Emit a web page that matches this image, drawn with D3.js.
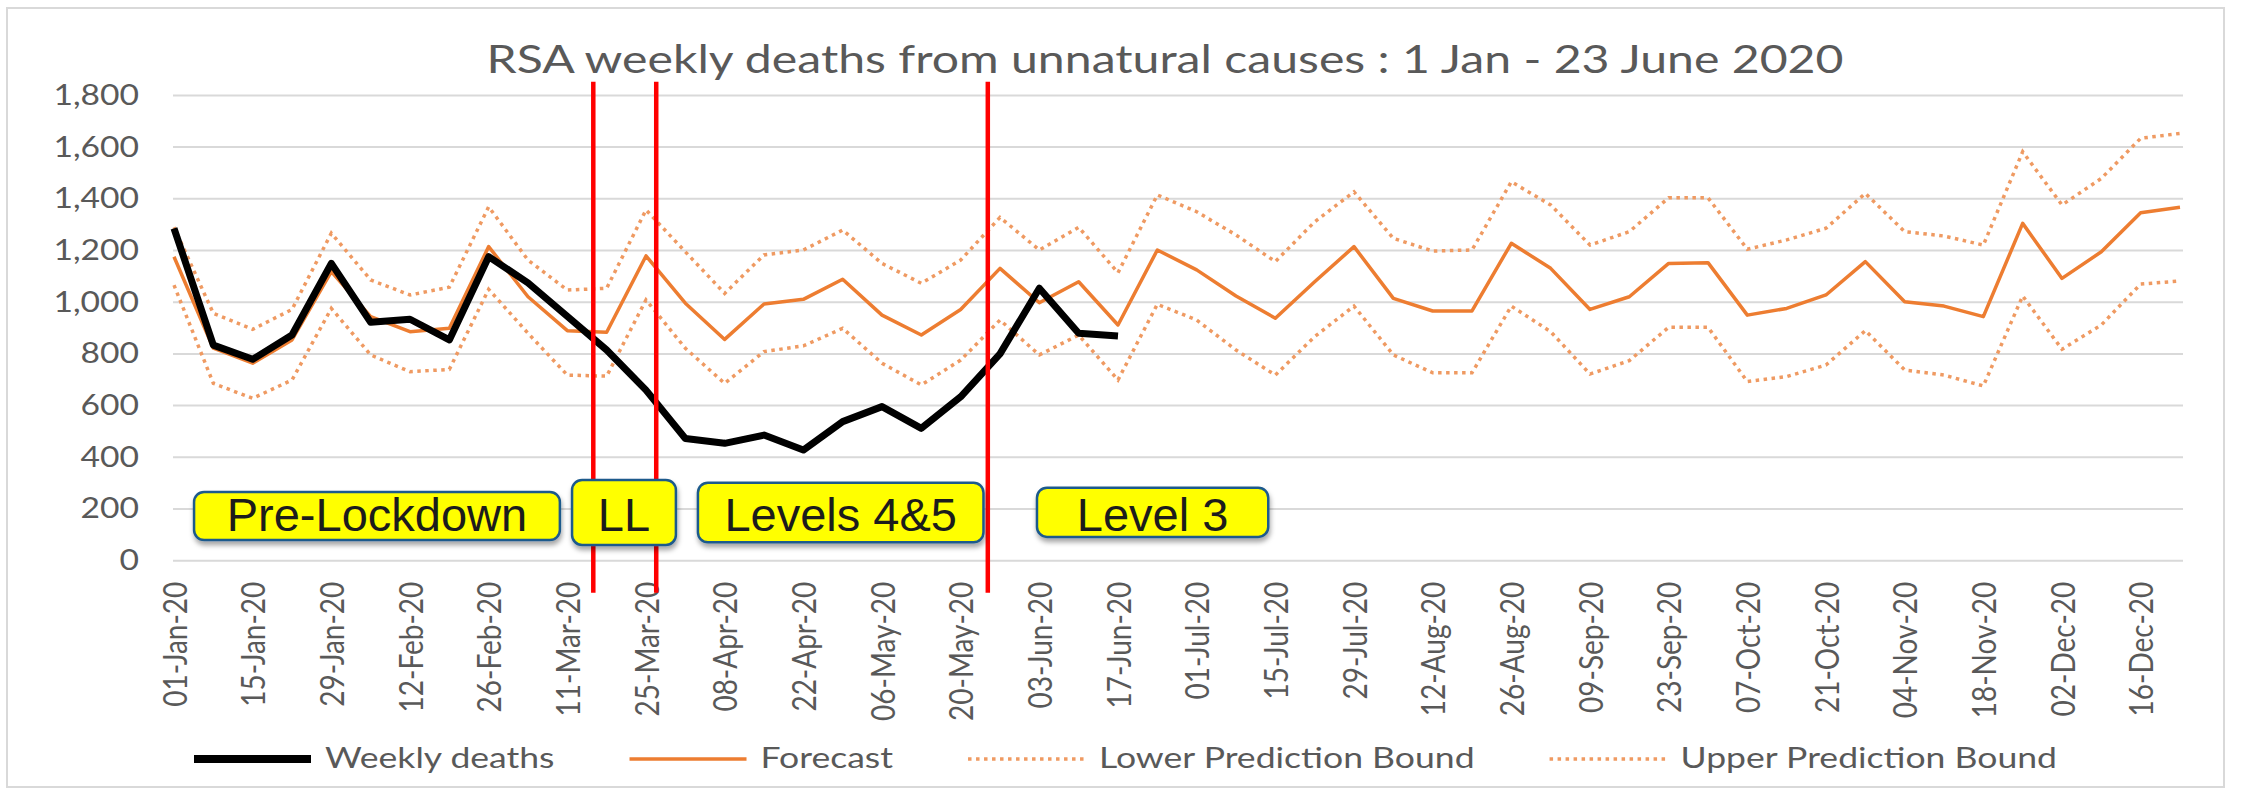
<!DOCTYPE html>
<html>
<head>
<meta charset="utf-8">
<title>RSA weekly deaths from unnatural causes</title>
<script src="https://cdn.jsdelivr.net/npm/d3@7"></script>
<style>
  html, body {margin:0; padding:0; background:#fff;}
  svg text {font-family:Lato, 'Open Sans', sans-serif; fill:#595959;}
  .phase text {font-family:'Liberation Sans', Arial, sans-serif; fill:#1c1c1c;}
</style>
</head>
<body>
<svg id="chart" width="2241" height="790"></svg>
<script>
// weekly categories, 01-Jan-20 .. 23-Dec-20
const weeks = ['01-Jan-20','08-Jan-20','15-Jan-20','22-Jan-20','29-Jan-20','05-Feb-20','12-Feb-20',
  '19-Feb-20','26-Feb-20','04-Mar-20','11-Mar-20','18-Mar-20','25-Mar-20','01-Apr-20','08-Apr-20',
  '15-Apr-20','22-Apr-20','29-Apr-20','06-May-20','13-May-20','20-May-20','27-May-20','03-Jun-20',
  '10-Jun-20','17-Jun-20','24-Jun-20','01-Jul-20','08-Jul-20','15-Jul-20','22-Jul-20','29-Jul-20',
  '05-Aug-20','12-Aug-20','19-Aug-20','26-Aug-20','02-Sep-20','09-Sep-20','16-Sep-20','23-Sep-20',
  '30-Sep-20','07-Oct-20','14-Oct-20','21-Oct-20','28-Oct-20','04-Nov-20','11-Nov-20','18-Nov-20',
  '25-Nov-20','02-Dec-20','09-Dec-20','16-Dec-20','23-Dec-20'];

// observed, up to 17-Jun
const deaths = [1286,834,779,873,1150,922,934,854,1176,1075,945,815,660,473,454,486,428,538,596,512,
  634,800,1054,880,869];

const forecast = [1176,822,764,854,1118,944,886,899,1215,1021,890,884,1179,996,856,993,1011,1089,950,873,
  972,1131,998,1079,912,1202,1125,1024,938,1079,1215,1015,966,966,1228,1131,972,1021,1150,1153,
  950,976,1028,1157,1002,985,944,1305,1092,1195,1346,1367];

const lower = [1066,686,628,699,976,796,731,740,1050,880,718,714,1009,822,686,809,831,899,764,680,
  776,931,796,873,699,992,931,815,718,867,985,796,727,727,985,886,722,774,903,903,
  693,712,757,890,738,718,676,1024,818,912,1070,1082];

const upper = [1290,957,895,972,1267,1086,1028,1058,1369,1163,1047,1054,1357,1195,1034,1183,1202,1279,1150,1073,
  1163,1328,1202,1290,1114,1415,1350,1260,1157,1311,1427,1247,1198,1202,1466,1376,1221,1273,1404,1404,
  1205,1241,1286,1421,1273,1256,1221,1582,1376,1479,1634,1653];

const yTicks = [0,200,400,600,800,1000,1200,1400,1600,1800];

// red separators, in weeks after 01-Jan
const markers = [10.66, 12.26, 20.69];

// phase labels
const phases = ['Pre-Lockdown','LL','Levels 4&5','Level 3'];
const phaseFrom = [0.51, 10.12, 13.32, 21.94];
const phaseTo = [9.81, 12.76, 20.58, 27.82];
const phaseTop = [266, 312, 302, 282];
const phaseBottom = [80, 61, 71, 92];

const legendNames = ['Weekly deaths','Forecast','Lower Prediction Bound','Upper Prediction Bound'];

const SX = 1.2; // picture is stretched sideways
const svg = d3.select('#chart');
const plotL = 174, plotR = 2180, plotT = 95.4, plotB = 560.7;

const x = d3.scalePoint().domain(weeks).range([plotL, plotR]);
const xi = d3.scaleLinear().domain([0, weeks.length-1]).range([plotL, plotR]);
const y = d3.scaleLinear().domain([0,1800]).range([plotB, plotT]);

svg.append('rect').attr('x',7).attr('y',8).attr('width',2217).attr('height',779)
   .attr('fill','#fff').attr('stroke','#d9d9d9').attr('stroke-width',2);

const defs = svg.append('defs');
defs.append('filter').attr('id','shadow').attr('x','-10%').attr('y','-20%')
    .attr('width','120%').attr('height','150%')
  .append('feDropShadow').attr('dx',1).attr('dy',4).attr('stdDeviation',2.5)
    .attr('flood-color','#000').attr('flood-opacity',0.35);

function stretch(sel, k) {
  sel.each(function() {
    const w = this.getComputedTextLength();
    d3.select(this).attr('textLength', w*k).attr('lengthAdjust','spacingAndGlyphs');
  });
}

// title
svg.append('text').attr('x',1165).attr('y',73).attr('text-anchor','middle')
   .attr('font-size',39).attr('textLength',1357).attr('lengthAdjust','spacingAndGlyphs')
   .text('RSA weekly deaths from unnatural causes : 1 Jan - 23 June 2020');

// gridlines
svg.append('g').selectAll('line').data(yTicks).join('line')
   .attr('x1',173).attr('x2',2183).attr('y1',d=>y(d)).attr('y2',d=>y(d))
   .attr('stroke','#d9d9d9').attr('stroke-width',2);

// y axis
const gy = svg.append('g').attr('transform','translate(173,0)')
   .call(d3.axisLeft(y).tickValues(yTicks).tickFormat(d3.format(',')).tickSize(0).tickPadding(34));
gy.select('.domain').remove();
gy.attr('font-family',null);
gy.selectAll('text').attr('font-size',28).attr('fill','#595959').call(stretch, SX);

// x axis
const gx = svg.append('g').attr('transform','translate(0,'+plotB+')')
   .call(d3.axisBottom(x).tickValues(weeks.filter((d,i)=>i%2===0)).tickSize(0));
gx.select('.domain').remove();
gx.attr('font-family',null);
gx.selectAll('text').attr('font-size',28).attr('fill','#595959')
  .attr('text-anchor','end').attr('transform','rotate(-90) scale(1,'+SX+')')
  .attr('x',-21).attr('y',0).attr('dy','0.36em');

// series
const line = d3.line().x((d,i)=>x(weeks[i])).y(d=>y(d));
svg.append('path').datum(lower).attr('d',line).attr('fill','none')
   .attr('stroke','#ef9a62').attr('stroke-width',3.5).attr('stroke-dasharray','3.5,4.5');
svg.append('path').datum(upper).attr('d',line).attr('fill','none')
   .attr('stroke','#ef9a62').attr('stroke-width',3.5).attr('stroke-dasharray','3.5,4.5');
svg.append('path').datum(forecast).attr('d',line).attr('fill','none')
   .attr('stroke','#ed7d31').attr('stroke-width',3.5).attr('stroke-linejoin','round');
svg.append('path').datum(deaths).attr('d',line).attr('fill','none')
   .attr('stroke','#000').attr('stroke-width',7).attr('stroke-linejoin','round');

// red separators
svg.append('g').selectAll('line').data(markers).join('line')
   .attr('x1',d=>xi(d)).attr('x2',d=>xi(d)).attr('y1',y(1853)).attr('y2',y(-124))
   .attr('stroke','#ff0000').attr('stroke-width',4.5);

// phase boxes
const pg = svg.append('g').attr('class','phase').selectAll('g').data(phases).join('g');
pg.append('rect')
  .attr('x',(d,i)=>xi(phaseFrom[i])).attr('width',(d,i)=>xi(phaseTo[i])-xi(phaseFrom[i]))
  .attr('y',(d,i)=>y(phaseTop[i])).attr('height',(d,i)=>y(phaseBottom[i])-y(phaseTop[i]))
  .attr('rx',10).attr('fill','#ffff00').attr('stroke','#1f5a8c').attr('stroke-width',2.5)
  .attr('filter','url(#shadow)');
pg.append('text')
  .attr('x',(d,i)=>(xi(phaseFrom[i])+xi(phaseTo[i]))/2).attr('y',531)
  .attr('text-anchor','middle').attr('font-size',47).text(d=>d);

// legend
const lg = svg.append('g');
const LSX = 1.27;
let lx = 194;
legendNames.forEach((name,i)=>{
  const ln = lg.append('line').attr('x1',lx).attr('x2',lx+117).attr('y1',759).attr('y2',759);
  if (i===0) ln.attr('stroke','#000').attr('stroke-width',8);
  else if (i===1) ln.attr('stroke','#ed7d31').attr('stroke-width',3.5);
  else ln.attr('stroke','#ef9a62').attr('stroke-width',3.5).attr('stroke-dasharray','3.5,4.5');
  const t = lg.append('text').attr('x',lx+131).attr('y',759).attr('dy','0.33em')
     .attr('font-size',28).text(name);
  const w = t.node().getComputedTextLength()*LSX;
  t.attr('textLength',w).attr('lengthAdjust','spacingAndGlyphs');
  lx = lx + 131 + w + 75;
});
</script>
</body>
</html>
